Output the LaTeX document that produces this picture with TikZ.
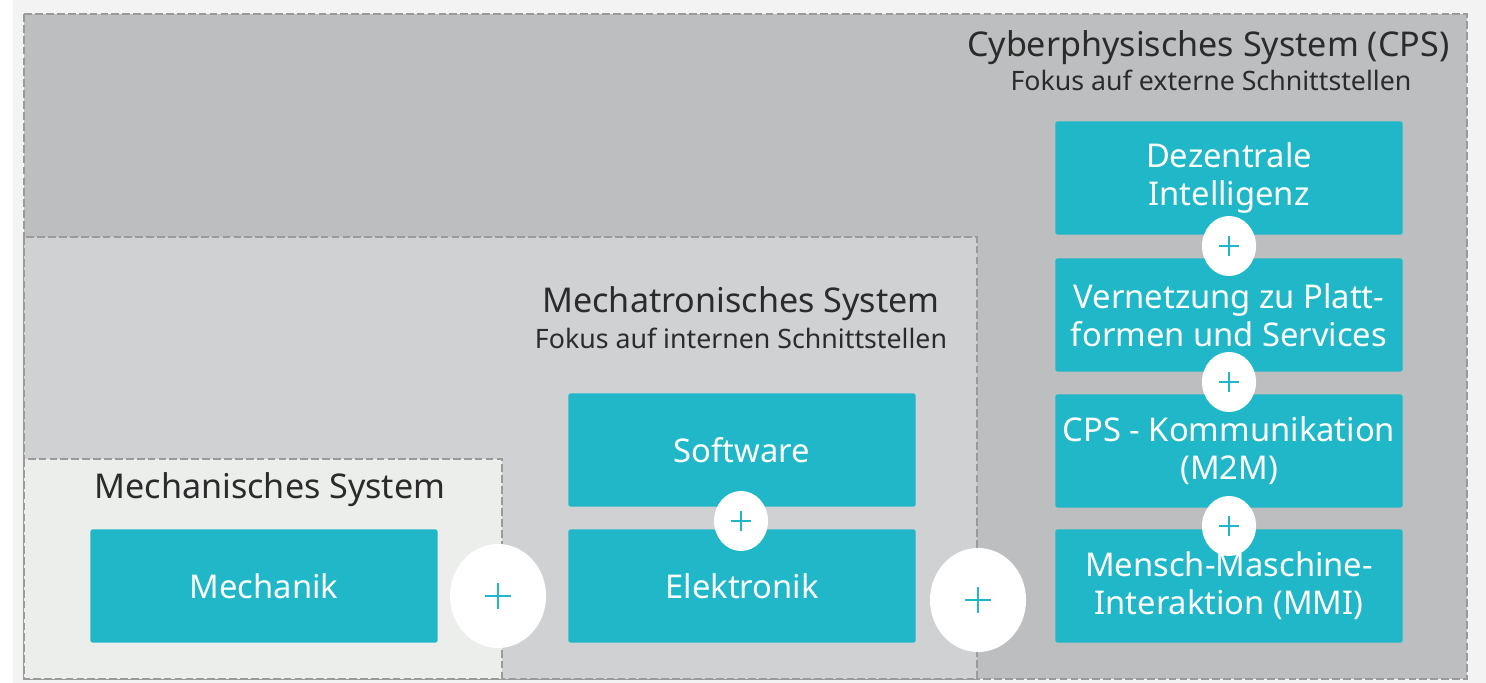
\documentclass[tikz,border=0pt]{standalone}
\usepackage{fontspec}
\setmainfont{Noto Sans}
\usetikzlibrary{shapes.geometric}
\definecolor{pagebg}{HTML}{F3F3F3}
\definecolor{cpsfill}{HTML}{BDBEC0}
\definecolor{mtfill}{HTML}{D0D1D3}
\definecolor{mefill}{HTML}{ECEEEC}
\definecolor{tealc}{HTML}{20B8C9}
\definecolor{dashc}{HTML}{9A9A9A}
\definecolor{txtc}{HTML}{2B2B2B}
\tikzset{
  sysbox/.style={draw=dashc, line width=0.6pt, dash pattern=on 2.2pt off 0.9pt},
  tbox/.style={fill=tealc, text=white, minimum width=3.47cm, minimum height=1.13cm,
    inner sep=0pt, align=center, rounded corners=0.6pt,
    font=\fontsize{9.3}{10.8}\selectfont},
  plusbig/.style={ellipse, fill=white, minimum width=0.96cm, minimum height=1.04cm, inner sep=0pt,
    path picture={\draw[tealc, line width=0.55pt]
      ([xshift=-0.13cm]path picture bounding box.center) -- ([xshift=0.13cm]path picture bounding box.center)
      ([yshift=-0.13cm]path picture bounding box.center) -- ([yshift=0.13cm]path picture bounding box.center);}},
  plussmall/.style={ellipse, fill=white, minimum width=0.54cm, minimum height=0.6cm, inner sep=0pt,
    path picture={\draw[tealc, line width=0.5pt]
      ([xshift=-0.1cm]path picture bounding box.center) -- ([xshift=0.1cm]path picture bounding box.center)
      ([yshift=-0.1cm]path picture bounding box.center) -- ([yshift=0.1cm]path picture bounding box.center);}},
  ttl/.style={text=txtc, inner sep=0pt, font=\fontsize{9.7}{11}\selectfont},
  sub/.style={text=txtc, inner sep=0pt, font=\fontsize{7.6}{9}\selectfont},
}
\begin{document}
\begin{tikzpicture}[x=0.01cm, y=-0.01cm]
\useasboundingbox (0,0) rectangle (1486,683);
\fill[pagebg] (0,0) rectangle (1486,683);
\fill[white] (0,0) rectangle (13,683);
% system areas
\path[fill=cpsfill, sysbox] (24,14) rectangle (1467,679);
\path[fill=mtfill, sysbox] (24,237) rectangle (977,679);
\path[fill=mefill, sysbox] (24,459) rectangle (502,679);
% titles
\node[ttl, anchor=base east] (cpst) at (1450,57) {Cyberphysisches System (CPS)};
\node[sub, anchor=base] (cpss) at (1211,91) {Fokus auf externe Schnittstellen};
\node[ttl, anchor=base] (mtt) at (741,313) {Mechatronisches System};
\node[sub, anchor=base] (mts) at (741,349) {Fokus auf internen Schnittstellen};
\node[ttl, anchor=base] (met) at (270,499) {Mechanisches System};
% boxes
\node[tbox] (mech) at (264,586) {Mechanik};
\node[tbox] (soft) at (742,450) {Software};
\node[tbox] (elek) at (742,586) {Elektronik};
\node[tbox] (dez) at (1229,178) {Dezentrale\\Intelligenz};
\node[tbox] (vern) at (1229,315) {Vernetzung zu Platt-\\formen und Services};
\node[tbox] (m2m) at (1229,451) {CPS - Kommunikation\\(M2M)};
\node[tbox] (mmi) at (1229,586) {Mensch-Maschine-\\Interaktion (MMI)};
% plus signs
\node[plusbig] (p1) at (498,596) {};
\node[plusbig] (p2) at (978,600) {};
\node[plussmall] (p3) at (741,521) {};
\node[plussmall] (p4) at (1229,246) {};
\node[plussmall] (p5) at (1229,382) {};
\node[plussmall] (p6) at (1229,526) {};
\end{tikzpicture}
\end{document}
